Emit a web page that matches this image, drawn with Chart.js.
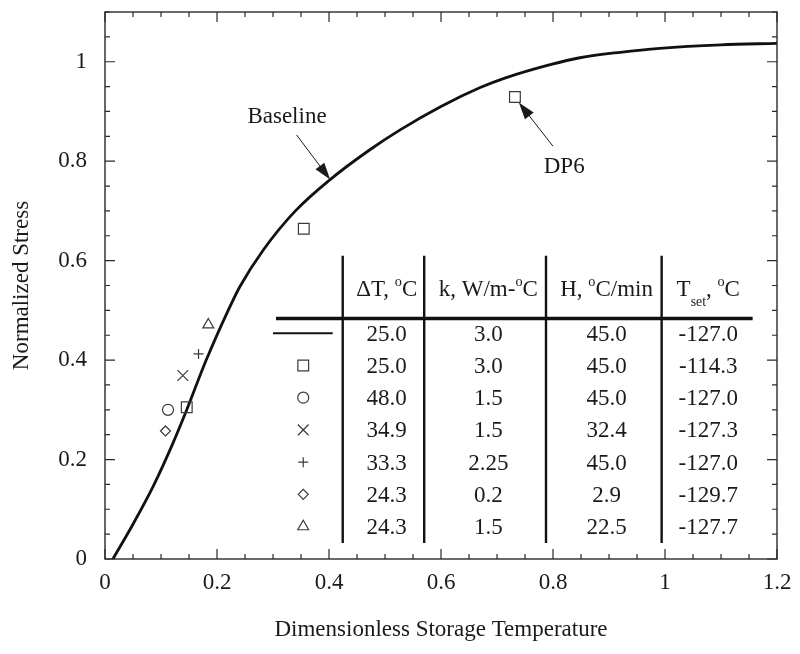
<!DOCTYPE html>
<html>
<head>
<meta charset="utf-8">
<script src="https://cdn.jsdelivr.net/npm/chart.js"></script>
<style>
  html, body { margin: 0; padding: 0; background: #fff; }
  #wrap { width: 800px; height: 654px; }
</style>
</head>
<body>
<div id="wrap"><canvas id="grafico" width="800" height="654"></canvas></div>
<script>
// curva base
const baselineX = [0.014, 0.051, 0.086, 0.121, 0.146, 0.18, 0.22, 0.241, 0.283, 0.34, 0.402, 0.473, 0.527, 0.60, 0.67, 0.714, 0.795, 0.848, 0.92, 0.991, 1.1, 1.2];
const baselineY = [0, 0.072, 0.146, 0.232, 0.300, 0.398, 0.500, 0.548, 0.622, 0.700, 0.763, 0.823, 0.863, 0.910, 0.948, 0.967, 0.994, 1.008, 1.019, 1.027, 1.034, 1.037];

// puntos medidos
const squareX = [0.146, 0.355, 0.732];
const squareY = [0.305, 0.664, 0.929];
const circleX = [0.1125];
const circleY = [0.300];
const crossX = [0.139];
const crossY = [0.369];
const plusX = [0.167];
const plusY = [0.4125];
const diamondX = [0.108];
const diamondY = [0.2575];
const triangleX = [0.1845];
const triangleY = [0.471];

const xTicks = [0, 0.2, 0.4, 0.6, 0.8, 1, 1.2];
const yTicks = [0, 0.2, 0.4, 0.6, 0.8, 1];

// tabla
const tableHeaders = ['ΔT, ^{o}C', 'k, W/m-^{o}C', 'H, ^{o}C/min', 'T_{set}, ^{o}C'];
const colDeltaT = ['25.0', '25.0', '48.0', '34.9', '33.3', '24.3', '24.3'];
const colK = ['3.0', '3.0', '1.5', '1.5', '2.25', '0.2', '1.5'];
const colH = ['45.0', '45.0', '45.0', '32.4', '45.0', '2.9', '22.5'];
const colTset = ['-127.0', '-114.3', '-127.0', '-127.3', '-127.0', '-129.7', '-127.7'];

const FAMILY = "'Liberation Serif', 'Times New Roman', serif";
const INK = '#1a1a1a';
const MARK = '#3a3a3a';

const pares = (xs, ys) => xs.map((x, i) => ({ x: x, y: ys[i] }));

function puntos(label, xs, ys, style, radius) {
  return {
    label: label,
    data: pares(xs, ys),
    pointStyle: style,
    pointRadius: radius,
    pointBorderColor: MARK,
    pointBackgroundColor: 'rgba(0,0,0,0)',
    pointBorderWidth: 1.2,
    showLine: false
  };
}

const datasets = [
  {
    type: 'line',
    label: 'Baseline',
    data: pares(baselineX, baselineY),
    borderColor: '#111',
    borderWidth: 2.8,
    pointRadius: 0,
    cubicInterpolationMode: 'monotone',
    fill: false,
    order: 2
  },
  puntos('square', squareX, squareY, 'rect', 7.6),
  puntos('circle', circleX, circleY, 'circle', 5.5),
  puntos('cross', crossX, crossY, 'crossRot', 7.6),
  puntos('plus', plusX, plusY, 'cross', 5),
  puntos('diamond', diamondX, diamondY, 'rectRot', 5),
  puntos('triangle', triangleX, triangleY, 'triangle', 6.3)
];

// texto con ^{sup} y _{sub}
function textoRico(ctx, str, cx, cy, size) {
  const partes = str.split(/(\^\{[^}]*\}|_\{[^}]*\})/).filter(s => s.length);
  const segs = partes.map(p => {
    if (p.startsWith('^{')) return { t: p.slice(2, -1), size: size * 0.62, dy: -size * 0.42 };
    if (p.startsWith('_{')) return { t: p.slice(2, -1), size: size * 0.6, dy: size * 0.45 };
    return { t: p, size: size, dy: 0 };
  });
  let total = 0;
  segs.forEach(s => {
    ctx.font = s.size + 'px ' + FAMILY;
    s.w = ctx.measureText(s.t).width;
    total += s.w;
  });
  let x = cx - total / 2;
  const base = cy + size * 0.33;
  ctx.textAlign = 'left';
  ctx.textBaseline = 'alphabetic';
  segs.forEach(s => {
    ctx.font = s.size + 'px ' + FAMILY;
    ctx.fillText(s.t, x, base + s.dy);
    x += s.w;
  });
}

function flecha(ctx, x1, y1, x2, y2) {
  const ang = Math.atan2(y2 - y1, x2 - x1);
  const largo = 17, medio = 5.5;
  ctx.strokeStyle = INK;
  ctx.lineWidth = 1;
  ctx.beginPath();
  ctx.moveTo(x1, y1);
  ctx.lineTo(x2 - Math.cos(ang) * largo * 0.8, y2 - Math.sin(ang) * largo * 0.8);
  ctx.stroke();
  ctx.fillStyle = INK;
  ctx.beginPath();
  ctx.moveTo(x2, y2);
  ctx.lineTo(x2 - Math.cos(ang) * largo + Math.sin(ang) * medio, y2 - Math.sin(ang) * largo - Math.cos(ang) * medio);
  ctx.lineTo(x2 - Math.cos(ang) * largo - Math.sin(ang) * medio, y2 - Math.sin(ang) * largo + Math.cos(ang) * medio);
  ctx.closePath();
  ctx.fill();
}

function simbolo(ctx, ds, x, y) {
  const opts = {
    pointStyle: ds.pointStyle,
    radius: ds.pointRadius,
    borderWidth: ds.pointBorderWidth,
    rotation: 0
  };
  ctx.save();
  ctx.strokeStyle = MARK;
  ctx.fillStyle = 'rgba(0,0,0,0)';
  ctx.lineWidth = ds.pointBorderWidth;
  if (Chart.helpers && Chart.helpers.drawPoint) {
    Chart.helpers.drawPoint(ctx, opts, x, y);
  }
  ctx.restore();
}

// marco con marcas hacia adentro
const marcoPlugin = {
  id: 'marco',
  afterDraw(chart) {
    const { ctx, chartArea: a, scales } = chart;
    const sx = scales.x, sy = scales.y;
    ctx.save();
    ctx.strokeStyle = '#2a2a2a';
    ctx.lineWidth = 1.4;
    ctx.strokeRect(a.left, a.top, a.right - a.left, a.bottom - a.top);
    ctx.lineWidth = 1.2;
    ctx.beginPath();
    for (let i = 0; i <= 24; i++) {
      const px = sx.getPixelForValue(i * 0.05);
      const len = i % 4 === 0 ? 10 : 5;
      ctx.moveTo(px, a.bottom); ctx.lineTo(px, a.bottom - len);
      ctx.moveTo(px, a.top); ctx.lineTo(px, a.top + len);
    }
    for (let i = 0; i <= 22; i++) {
      const py = sy.getPixelForValue(i * 0.05);
      const len = i % 4 === 0 ? 10 : 5;
      ctx.moveTo(a.left, py); ctx.lineTo(a.left + len, py);
      ctx.moveTo(a.right, py); ctx.lineTo(a.right - len, py);
    }
    ctx.stroke();
    ctx.restore();
  }
};

// anotaciones y tabla
const tablaPlugin = {
  id: 'tabla',
  afterDatasetsDraw(chart) {
    const { ctx, scales } = chart;
    const px = v => scales.x.getPixelForValue(v);
    const py = v => scales.y.getPixelForValue(v);
    ctx.save();
    ctx.fillStyle = INK;

    // Baseline / DP6
    textoRico(ctx, 'Baseline', px(0.325), py(0.893), 23);
    flecha(ctx, px(0.342), py(0.853), px(0.402), py(0.763));
    textoRico(ctx, 'DP6', px(0.820), py(0.791), 23);
    flecha(ctx, px(0.800), py(0.830), px(0.739), py(0.918));

    // lineas de la tabla
    ctx.strokeStyle = '#111';
    ctx.lineWidth = 3.5;
    ctx.beginPath();
    ctx.moveTo(px(0.3054), py(0.4835));
    ctx.lineTo(px(1.1565), py(0.4835));
    ctx.stroke();
    ctx.lineWidth = 2.4;
    ctx.beginPath();
    [0.4245, 0.570, 0.7875, 0.994].forEach(v => {
      ctx.moveTo(px(v), py(0.6097));
      ctx.lineTo(px(v), py(0.032));
    });
    ctx.stroke();

    const colX = [0.503, 0.6845, 0.8957, 1.0773];
    const filaY = i => 0.454 - i * 0.0648;

    ctx.fillStyle = INK;
    tableHeaders.forEach((h, j) => textoRico(ctx, h, px(colX[j]), py(0.545), 23));

    const cols = [colDeltaT, colK, colH, colTset];
    cols.forEach((col, j) => {
      col.forEach((t, i) => textoRico(ctx, t, px(colX[j]), py(filaY(i)), 23));
    });

    // simbolos de la leyenda
    chart.data.datasets.forEach((ds, i) => {
      const y = py(filaY(i));
      if (ds.type === 'line') {
        ctx.strokeStyle = '#111';
        ctx.lineWidth = 2;
        ctx.beginPath();
        ctx.moveTo(px(0.300), y);
        ctx.lineTo(px(0.4066), y);
        ctx.stroke();
      } else {
        simbolo(ctx, ds, px(0.354), y);
      }
    });
    ctx.restore();
  }
};

const fuente = { family: FAMILY, size: 23 };
const etiqueta = v => String(Math.round(v * 10) / 10);
const sinRelleno = s => { s.paddingTop = 0; s.paddingBottom = 0; s.paddingLeft = 0; s.paddingRight = 0; };

new Chart(document.getElementById('grafico'), {
  type: 'scatter',
  data: { datasets: datasets },
  options: {
    responsive: false,
    animation: false,
    devicePixelRatio: 1,
    layout: { padding: { left: 0, right: 23, top: 12, bottom: 0 } },
    plugins: { legend: { display: false }, tooltip: { enabled: false } },
    scales: {
      x: {
        type: 'linear',
        min: 0,
        max: 1.2,
        grid: { display: false, drawTicks: false },
        border: { display: false },
        ticks: { padding: 10, font: fuente, color: INK, callback: etiqueta, maxRotation: 0 },
        afterBuildTicks: s => { s.ticks = xTicks.map(v => ({ value: v })); },
        afterFit: s => { s.height = 95; sinRelleno(s); },
        title: { display: true, text: 'Dimensionless Storage Temperature', font: fuente, color: INK, padding: { top: 0, bottom: 10 } }
      },
      y: {
        type: 'linear',
        min: 0,
        max: 1.1,
        grid: { display: false, drawTicks: false },
        border: { display: false },
        ticks: { padding: 18, font: fuente, color: INK, callback: etiqueta },
        afterBuildTicks: s => { s.ticks = yTicks.map(v => ({ value: v })); },
        afterFit: s => { s.width = 105; sinRelleno(s); },
        title: { display: true, text: 'Normalized Stress', font: fuente, color: INK, padding: { top: 8, bottom: 0 } }
      }
    }
  },
  plugins: [marcoPlugin, tablaPlugin]
});
</script>
</body>
</html>
